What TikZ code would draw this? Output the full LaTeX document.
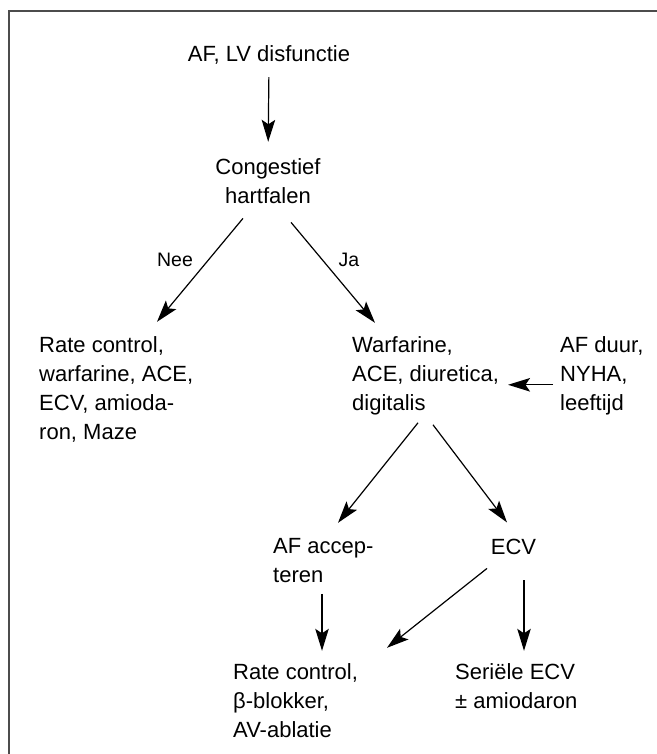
\documentclass[tikz,border=0pt]{standalone}
\usepackage{fontspec}
\setmainfont{Liberation Sans}
\usetikzlibrary{positioning, arrows.meta}

\begin{document}
\begin{tikzpicture}[
    x=1pt, y=1pt,
    %% plain text block, no frame
    txt/.style={
        inner sep=0pt, align=left,
        font=\fontsize{22}{29}\selectfont
    },
    %% yes / no label next to a branch
    elab/.style={inner sep=0pt, font=\fontsize{19.5}{24}\selectfont},
    %% decision flow
    flow/.style={-{Stealth[length=22pt, width=13.5pt, inset=4.5pt]}, line width=1.2pt},
    %% outer frame (cut off right and below)
    frame/.style={line width=2pt, draw=black!70}
]
\useasboundingbox (0,0) rectangle (656,-754);

%%-------------------------------------------------------------- frame
\draw[frame] (9,-800) |- (700,-11);

%%-------------------------------------------------------------- nodes
\node[txt, anchor=base]               (start)  at (269,-62)    {AF, LV disfunctie};

\node[txt, align=center, anchor=north] (chf)   at (268,-158.8) {Congestief\\hartfalen};

\node[txt, anchor=north west]         (nee)    at (39,-336.8)  {Rate control,\\warfarine, ACE,\\ECV, amioda-\\ron, Maze};

\node[txt, anchor=north west]         (ja)     at (352,-336.8) {Warfarine,\\ACE, diuretica,\\digitalis};

\node[txt, anchor=north west]         (factor) at (560,-336.8) {AF duur,\\NYHA,\\leeftijd};

\node[txt, anchor=north west]         (accept) at (273,-537.8) {AF accep-\\teren};

\node[txt, anchor=base]               (ecv)    at (513.5,-554) {ECV};

\node[txt, anchor=north west]         (rate)   at (233,-663.8) {Rate control,\\β-blokker,\\AV-ablatie};

\node[txt, anchor=north west]         (serial) at (455,-663.8) {Seriële ECV\\± amiodaron};

\node[elab, anchor=base]              (nolab)  at (175,-266)   {Nee};
\node[elab, anchor=base]              (yeslab) at (349,-266)   {Ja};

%%-------------------------------------------------------------- edges
% presentation leads to the heart failure question
\draw[flow, shorten <=12pt, shorten >=17pt] (start.south) -- (chf.north);

% no / yes branches
\draw[flow] ([shift={(-25,-14)}]chf.south) -- ([shift={(118,15)}]nee.north west);
\draw[flow] ([shift={(23,-18)}]chf.south)  -- ([shift={(23,14)}]ja.north west);

% patient factors feed into the treatment
\draw[flow] ([shift={(-7,-48)}]factor.north west) -- ([shift={(156,-48)}]ja.north west);

% rate or rhythm
\draw[flow] ([shift={(66,-86)}]ja.north west) -- ([shift={(65,15)}]accept.north west);
\draw[flow] ([shift={(81,-88)}]ja.north west) -- ([shift={(-6.5,16)}]ecv.north);

% follow-up
\draw[flow] ([shift={(49,-56)}]accept.north west) -- ([shift={(89,13)}]rate.north west);
\draw[flow] ([shift={(-26.5,-14)}]ecv.south)      -- ([shift={(154,16)}]rate.north west);
\draw[flow] ([shift={(10.5,-26)}]ecv.south)       -- ([shift={(69,13)}]serial.north west);

\end{tikzpicture}
\end{document}
